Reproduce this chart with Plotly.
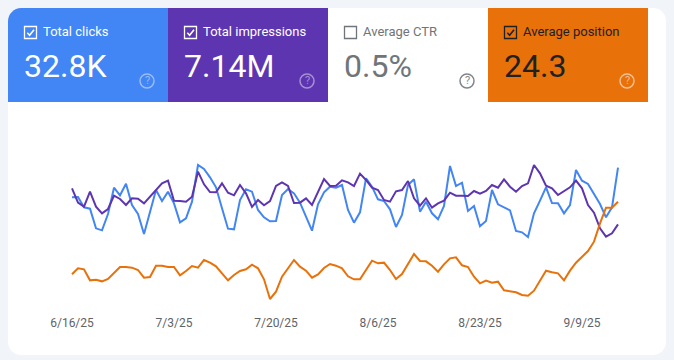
import plotly.graph_objects as go
from datetime import date, timedelta

W, H = 674, 360
start = date(2025, 6, 16)

clicks = [387,388.5,342,336,247.5,238.5,312,430.5,396,448.5,352.5,312,222,322.5,420,370.5,412.5,360,274.5,292.5,367.5,532.5,514.5,477,432,337.5,246,243,375,423,412.5,330,
          297,279,280.5,397.5,424.5,405,363,300,237,355.5,409.5,435,430.5,442.5,330,273,319.5,472.5,435,378,370.5,333,253.5,307.5,442.5,468,322.5,367.5,315,288,348,528,
          438,453,325.5,348,256.5,280.5,420,355.5,340.5,328.5,235.5,229.5,208.5,315,372,432,361.5,360,315,352.5,510,462,447,405,357,297,342,520.5]
impressions = [78.5,74.2,73,77.5,73,71,72.3,76.3,75.3,73.5,75.5,75.4,74,76,78,80,80.8,74.8,74.7,74.5,76,83.5,79.7,77.4,77.3,80,77.2,76.4,79.5,77,72.9,75,
               73.4,74.7,79.2,80.3,79.2,74.1,74.2,75.5,73.5,77.5,81.3,79.2,79.3,80.9,80.3,79.2,82.9,81,78.7,78,75,74.5,77.6,78,80.7,75.5,73.3,75.5,72.7,74,74.8,77.2,
               76.3,76.3,76.2,77.7,76.9,77.7,79.5,78.7,81.2,79,77.5,79.2,80,85.5,83,79.3,78.5,76.5,77.7,78.8,80.8,78.5,73.5,71.2,66.5,64,65,67.7]
position = [24.65,23.75,23.9,25.55,25.45,25.7,25.35,24.4,23.55,23.55,23.65,24,25.15,25.05,23.35,23.35,23.55,23.55,24.8,24.15,23.4,23.65,22.5,22.9,23.45,24.5,25.55,24.75,24.15,23.9,23.2,23.75,
            25.4,28.35,27.25,25,23.75,22.5,23.5,24.1,25.15,24.65,23.7,23.1,23.35,23.75,24.95,25.4,25.4,23.95,22.6,23,22.9,24,25.35,24.6,23.1,21.6,22.65,22.7,23.35,24.25,23.15,22.25,
            22.1,23.3,23.55,25,26,25.6,25.9,25.75,27.05,27.2,27.35,27.75,27.85,27.1,25.6,24.1,24.35,24.5,25.55,24.1,22.9,22,21.15,19.75,17,14.65,14.65,13.75]
dates = [(start + timedelta(days=i)).isoformat() for i in range(len(clicks))]

tick_dates = ["2025-06-16", "2025-07-03", "2025-07-20", "2025-08-06", "2025-08-23", "2025-09-09"]
tick_labels = ["6/16/25", "7/3/25", "7/20/25", "8/6/25", "8/23/25", "9/9/25"]

tile_names = ["Total clicks", "Total impressions", "Average CTR", "Average position"]
tile_values = ["32.8K", "7.14M", "0.5%", "24.3"]
tile_left = [8, 168, 328, 488]
tile_fill = ["#4285f4", "#5e35b1", "#ffffff", "#e8710a"]
tile_text = ["#ffffff", "#ffffff", "#70757a", "#202124"]
tile_label = ["#ffffff", "#ffffff", "#70757a", "#202124"]
tile_help = ["rgba(255,255,255,0.45)", "rgba(255,255,255,0.45)", "#80868b", "rgba(255,255,255,0.55)"]
tile_checked = [True, True, False, True]

def px(x): return x / W
def py(y): return 1 - y / H
def P(*pts):
    return "M" + " L".join(f"{px(a):.5f},{py(b):.5f}" for a, b in pts)

BLUE, PURPLE, ORANGE = "#4285f4", "#5e35b1", "#e8710a"

fig = go.Figure()
fig.add_trace(go.Scatter(x=dates, y=impressions, yaxis="y2", mode="lines", line=dict(color=PURPLE, width=2), hoverinfo="skip"))
fig.add_trace(go.Scatter(x=dates, y=clicks, yaxis="y", mode="lines", line=dict(color=BLUE, width=2), hoverinfo="skip"))
fig.add_trace(go.Scatter(x=dates, y=position, yaxis="y3", mode="lines", line=dict(color=ORANGE, width=2), hoverinfo="skip"))

shapes, ann = [], []
r = 13
cL, cT, cR, cB = 8, 8, 666, 355
k = 0.45 * r
card = (f"M{px(cL+r):.5f},{py(cT):.5f} L{px(cR-r):.5f},{py(cT):.5f} "
        f"C{px(cR-k):.5f},{py(cT):.5f} {px(cR):.5f},{py(cT+k):.5f} {px(cR):.5f},{py(cT+r):.5f} "
        f"L{px(cR):.5f},{py(cB-r):.5f} C{px(cR):.5f},{py(cB-k):.5f} {px(cR-k):.5f},{py(cB):.5f} {px(cR-r):.5f},{py(cB):.5f} "
        f"L{px(cL+r):.5f},{py(cB):.5f} C{px(cL+k):.5f},{py(cB):.5f} {px(cL):.5f},{py(cB-k):.5f} {px(cL):.5f},{py(cB-r):.5f} "
        f"L{px(cL):.5f},{py(cT+r):.5f} C{px(cL):.5f},{py(cT+k):.5f} {px(cL+k):.5f},{py(cT):.5f} {px(cL+r):.5f},{py(cT):.5f} Z")
shapes.append(dict(type="path", xref="paper", yref="paper", path=card, fillcolor="#ffffff", line=dict(width=0), layer="below"))
shapes.append(dict(type="line", xref="paper", yref="paper", x0=px(8), x1=px(648), y0=py(101.5), y1=py(101.5), line=dict(color="#dadce0", width=1), layer="below"))

for i, name in enumerate(tile_names):
    L = tile_left[i]
    if i == 0:
        tl = (f"M{px(L+13):.5f},{py(8):.5f} L{px(L+160):.5f},{py(8):.5f} L{px(L+160):.5f},{py(102):.5f} L{px(L):.5f},{py(102):.5f} "
              f"L{px(L):.5f},{py(21):.5f} C{px(L):.5f},{py(14):.5f} {px(L+6):.5f},{py(8):.5f} {px(L+13):.5f},{py(8):.5f} Z")
        shapes.append(dict(type="path", xref="paper", yref="paper", path=tl, fillcolor=tile_fill[i], line=dict(width=0), layer="below"))
    else:
        shapes.append(dict(type="rect", xref="paper", yref="paper", x0=px(L), x1=px(L+160), y0=py(102), y1=py(8),
                           fillcolor=tile_fill[i], line=dict(width=0), layer="below"))
    col = tile_label[i]
    shapes.append(dict(type="rect", xref="paper", yref="paper", x0=px(L+16.5), x1=px(L+28.5), y0=py(38.5), y1=py(26.5),
                       fillcolor="rgba(0,0,0,0)", line=dict(color=col, width=1.3)))
    if tile_checked[i]:
        shapes.append(dict(type="path", xref="paper", yref="paper", path=P((L+19.3, 32.8), (L+21.6, 35.2), (L+26, 29.8)),
                           line=dict(color=col, width=1.6)))
    ann.append(dict(text=name, x=px(L+33), y=py(31.5), xref="paper", yref="paper", xanchor="left", yanchor="middle",
                    showarrow=False, font=dict(family="Roboto", size=13, color=tile_label[i])))
    ann.append(dict(text=tile_values[i], x=px(L+13.5), y=py(65.5), xref="paper", yref="paper", xanchor="left", yanchor="middle",
                    showarrow=False, font=dict(family="Roboto", size=32, color=tile_text[i])))
    cx, cy, rad = L + 139, 81, 7
    shapes.append(dict(type="circle", xref="paper", yref="paper", x0=px(cx-rad), x1=px(cx+rad), y0=py(cy+rad), y1=py(cy-rad),
                       fillcolor="rgba(0,0,0,0)", line=dict(color=tile_help[i], width=1.5)))
    ann.append(dict(text="?", x=px(cx), y=py(cy), xref="paper", yref="paper", xanchor="center", yanchor="middle",
                    showarrow=False, font=dict(family="Roboto", size=11, color=tile_help[i])))

DOM = [py(150 + 500/3), py(150)]
fig.update_layout(
    width=W, height=H, margin=dict(l=0, r=0, t=0, b=0), showlegend=False,
    paper_bgcolor="#f1f4f9", plot_bgcolor="rgba(0,0,0,0)",
    xaxis=dict(type="date", range=["2025-06-04", "2025-09-24 08:00"], tickvals=tick_dates, ticktext=tick_labels,
               showgrid=False, zeroline=False, showline=False, ticks="", anchor="free", position=py(314),
               tickfont=dict(family="Roboto", size=12, color="#5f6368")),
    yaxis=dict(domain=DOM, range=[-150, 600], visible=False, fixedrange=True),
    yaxis2=dict(domain=DOM, range=[40, 90], visible=False, overlaying="y", fixedrange=True),
    yaxis3=dict(domain=DOM, range=[31, 6], visible=False, overlaying="y", fixedrange=True),
    shapes=shapes, annotations=ann,
)
fig.write_html("out.html", config=dict(displayModeBar=False),
               post_script="document.body.style.margin='0';document.body.style.background='#f1f4f9';")
